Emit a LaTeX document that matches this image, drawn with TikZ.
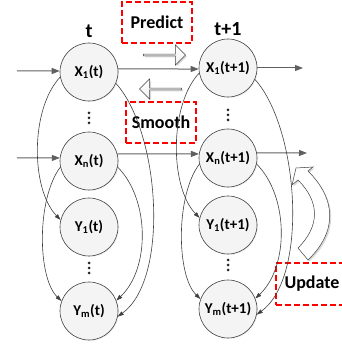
\documentclass[tikz,border=0pt]{standalone}
\usepackage{fontspec}
\setmainfont{Carlito}
\usetikzlibrary{positioning,arrows.meta,shapes.arrows,shadows}
\definecolor{nodegray}{RGB}{244,244,244}
\definecolor{linegray}{RGB}{64,64,64}
\definecolor{flowgray}{RGB}{96,96,96}
\definecolor{boxred}{RGB}{255,0,0}

\tikzset{
  state/.style={circle,draw=linegray,fill=nodegray,line width=0.6pt,minimum size=58pt,inner sep=0pt,
    font=\fontsize{15}{15}\selectfont\bfseries,
    drop shadow={opacity=0.12,shadow xshift=1pt,shadow yshift=-1pt}},
  flow/.style={-{Triangle[length=8pt,width=6pt]},line width=1pt,flowgray},
  link/.style={-{Triangle[length=6pt,width=4pt]},line width=0.6pt,linegray},
  opbox/.style={draw=boxred,line width=1.5pt,dash pattern=on 6pt off 3pt,minimum width=70pt,minimum height=41pt,
    font=\fontsize{18}{18}\selectfont\bfseries},
  blockarrow/.style={single arrow,draw=linegray,line width=0.5pt,top color=white,bottom color=gray!12,
    minimum height=42pt,minimum width=20pt,single arrow head extend=2.5pt,inner sep=0pt,
    drop shadow={opacity=0.3,shadow xshift=1.5pt,shadow yshift=-1.5pt}},
  timelabel/.style={font=\fontsize{20}{20}\selectfont\bfseries}
}

\begin{document}
\begin{tikzpicture}[x=1pt,y=1pt]
  \useasboundingbox (0,0) rectangle (341,349);

  % column t
  \node[state] (x1-t) at (89,277) {X\textsubscript{1}(t)};
  \node[state] (xn-t) at (89,188) {X\textsubscript{n}(t)};
  \node[state] (y1-t) at (89,122) {Y\textsubscript{1}(t)};
  \node[state] (ym-t) at (89,38) {Y\textsubscript{m}(t)};
  % column t+1
  \node[state] (x1-tp) at (228,281) {X\textsubscript{1}(t+1)};
  \node[state] (xn-tp) at (228,191) {X\textsubscript{n}(t+1)};
  \node[state] (y1-tp) at (228,124) {Y\textsubscript{1}(t+1)};
  \node[state] (ym-tp) at (228,40) {Y\textsubscript{m}(t+1)};

  \node[timelabel] (lab-t) at (89,318) {t};
  \node[timelabel] (lab-tp) at (228,320) {t+1};

  % vertical dots
  \foreach \x/\y in {89/231,228/234,89/81,228/84}
    \foreach \d in {-5,0,5}
      \fill[black!85] (\x,\y+\d) circle (1.5pt);

  \node[opbox] (predict) at (157,326.5) {Predict};
  \node[opbox] (smooth) at (161,226.5) {Smooth};
  \node[opbox,minimum width=72pt,minimum height=42pt] (update) at (312,65) {Update};

  \node[blockarrow] (pa) at (164,294) {};
  \node[blockarrow,shape border rotate=180] (sa) at (161,260) {};

  % update arrow
  \draw[linegray,line width=0.5pt,fill=white,drop shadow={opacity=0.3,shadow xshift=1.5pt,shadow yshift=-1.5pt}]
    (298,101) .. controls (320,123) and (320,147) .. (298,169) -- (292,164) -- (296,181)
    -- (313,182) -- (308,178) .. controls (337,149) and (337,117) .. (308,89) -- cycle;

  \coordinate (in1) at (17,278);
  \coordinate (in2) at (17,191);
  \coordinate (out1) at (303,281);
  \coordinate (out2) at (307,196);

  \draw[flow] (in1) -- (x1-t.178);
  \draw[flow] (in2) -- (xn-t.174);
  \draw[flow] (x1-t.6) -- (x1-tp.182);
  \draw[flow] (xn-t.14) -- (xn-tp.172);
  \draw[flow] (x1-tp.east) -- (out1);
  \draw[flow] (xn-tp.10) -- (out2);

  \foreach \c in {t,tp} {
    \draw[link] (x1-\c.190) .. controls +(-30,-32) and +(-30,31) .. (y1-\c.166);
    \draw[link] (xn-\c.192) .. controls +(-24,-32) and +(-24,23) .. (ym-\c.160);
    \draw[link] (x1-\c.337) .. controls +(44,-49) and +(52,38) .. (ym-\c.349);
    \draw[link] (xn-\c.348) .. controls +(32,-32) and +(34,32) .. (ym-\c.21);
  }
\end{tikzpicture}
\end{document}
